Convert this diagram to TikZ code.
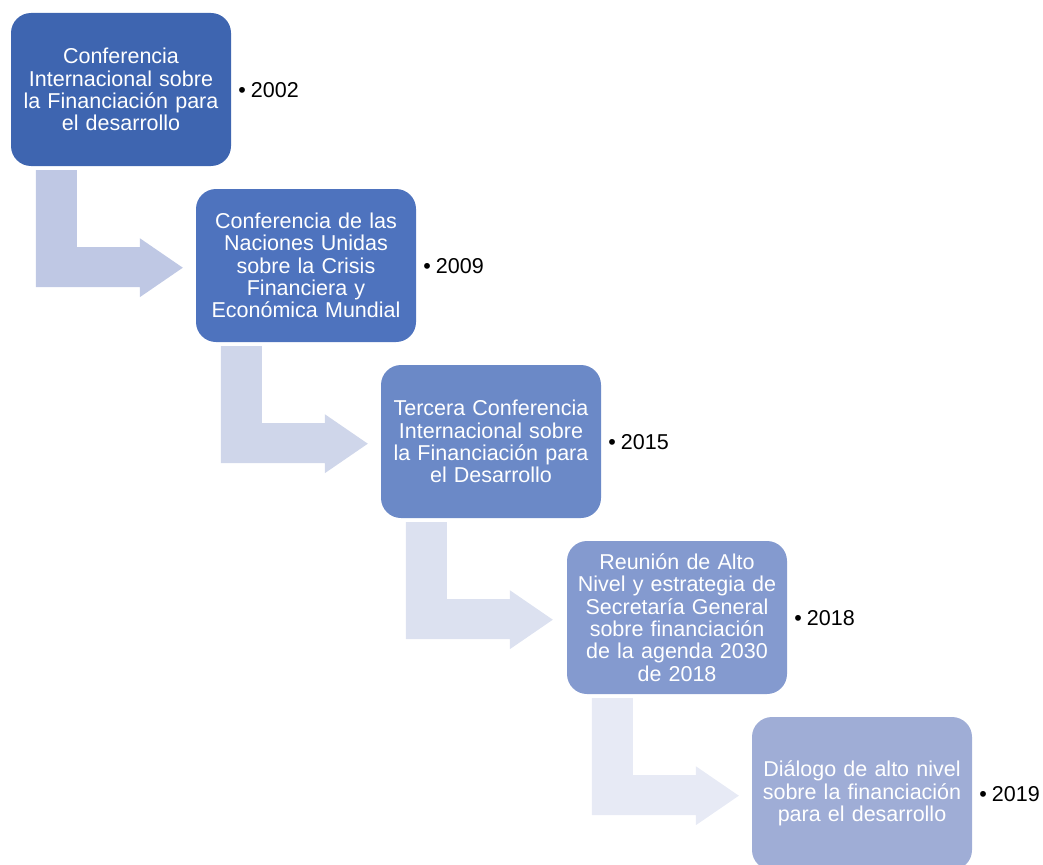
\documentclass[tikz,border=0pt]{standalone}
\usepackage{fontspec}
\setmainfont{Liberation Sans}
\usetikzlibrary{calc}
\definecolor{boxA}{RGB}{62,101,176}
\definecolor{boxB}{RGB}{78,115,190}
\definecolor{boxC}{RGB}{107,137,199}
\definecolor{boxD}{RGB}{132,154,207}
\definecolor{boxE}{RGB}{159,173,214}
\definecolor{arrA}{RGB}{191,200,228}
\definecolor{arrB}{RGB}{207,214,234}
\definecolor{arrC}{RGB}{220,225,240}
\definecolor{arrD}{RGB}{231,234,245}
\newcommand{\bentarrow}[2]{%
  \begin{scope}[shift={(#1.south west)}]
    \fill[#2] (25,4) -- (66,4) -- (66,81) -- (129,81) -- (129,72) -- (172,101.5)
      -- (129,131) -- (129,121) -- (25,121) -- cycle;
  \end{scope}}
\begin{document}
\begin{tikzpicture}[x=1pt,y=-1pt,
  stagebox/.style={draw=none, rounded corners=20pt, minimum width=220pt,
    minimum height=153pt, inner sep=0pt, text width=216pt, align=center,
    text=white, font=\fontsize{21.5pt}{22.3pt}\selectfont},
  yearlabel/.style={anchor=west, inner sep=0pt, text=black,
    font=\fontsize{21.5pt}{22.3pt}\selectfont}]
\useasboundingbox (0,0) rectangle (1043,864);
\clip (0,0) rectangle (1043,864);
\node[stagebox, fill=boxA] (b1) at (121,89.5) {Conferencia\\Internacional sobre\\la Financiación para\\el desarrollo};
\node[stagebox, fill=boxB] (b2) at (306,265.5) {Conferencia de las\\Naciones Unidas\\sobre la Crisis\\Financiera y\\Económica Mundial};
\node[stagebox, fill=boxC] (b3) at (491,441.5) {Tercera Conferencia\\Internacional sobre\\la Financiación para\\el Desarrollo};
\node[stagebox, fill=boxD] (b4) at (677,617.5) {Reunión de Alto\\Nivel y estrategia de\\Secretaría General\\sobre financiación\\de la agenda 2030\\de 2018};
\node[stagebox, fill=boxE] (b5) at (862,793.5) {Diálogo de alto nivel\\sobre la financiación\\para el desarrollo};
\bentarrow{b1}{arrA}
\bentarrow{b2}{arrB}
\bentarrow{b3}{arrC}
\bentarrow{b4}{arrD}
\node[yearlabel] (y1) at ($(b1.east)+(7,1)$) {•\hspace{5pt}2002};
\node[yearlabel] (y2) at ($(b2.east)+(7,1)$) {•\hspace{5pt}2009};
\node[yearlabel] (y3) at ($(b3.east)+(7,1)$) {•\hspace{5pt}2015};
\node[yearlabel] (y4) at ($(b4.east)+(7,1)$) {•\hspace{5pt}2018};
\node[yearlabel] (y5) at ($(b5.east)+(7,1)$) {•\hspace{5pt}2019};
\end{tikzpicture}
\end{document}
